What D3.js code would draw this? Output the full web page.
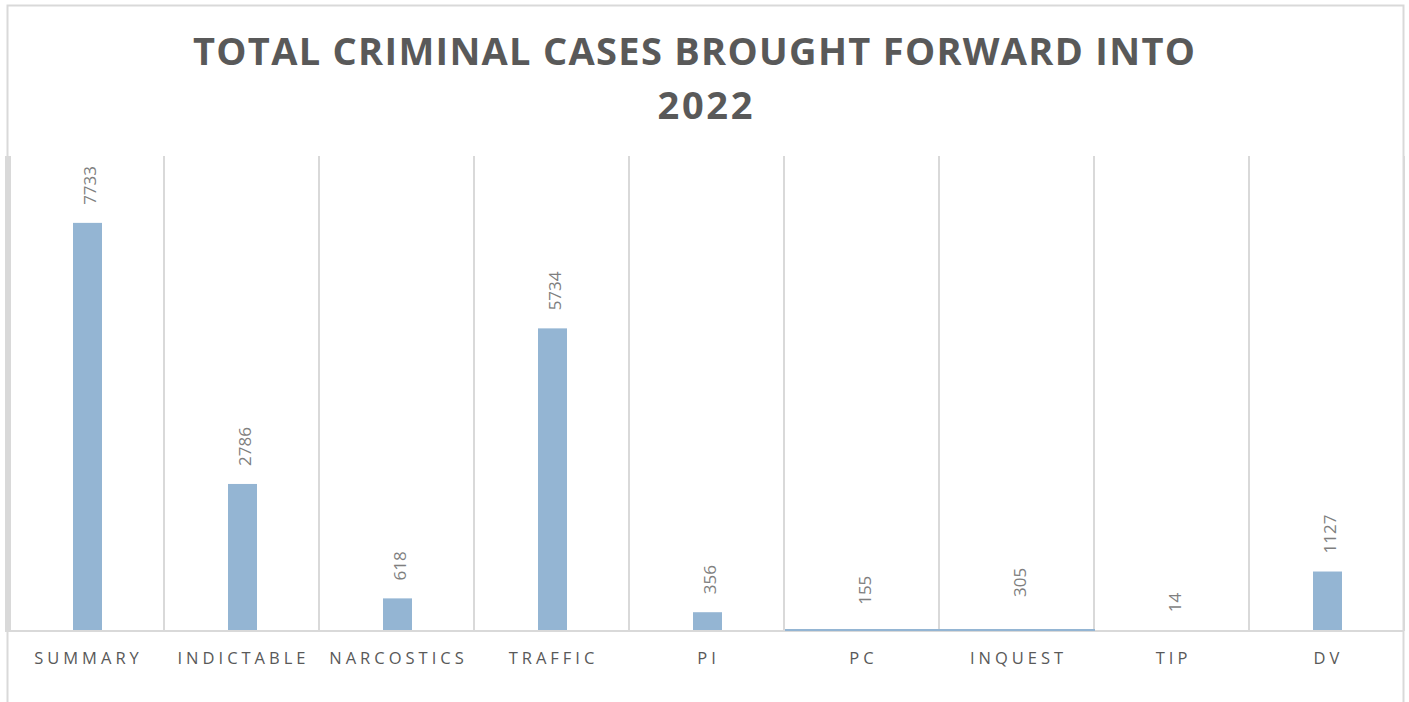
<!DOCTYPE html>
<html><head><meta charset="utf-8">
<script src="https://cdn.jsdelivr.net/npm/d3@7"></script>
<style>html,body{margin:0;padding:0;background:#fff;}svg{display:block;}</style>
</head><body>
<svg id="chart" width="1409" height="702"></svg>
<script>
const titleLines = ["TOTAL CRIMINAL CASES BROUGHT FORWARD INTO", "2022"];
const categories = ["SUMMARY","INDICTABLE","NARCOSTICS","TRAFFIC","PI","PC","INQUEST","TIP","DV"];
const values = [7733, 2786, 618, 5734, 356, 155, 305, 14, 1127];
// categories whose bar was rendered as a flat line along the baseline in the reference
const flatCategories = ["PC","INQUEST"];
const yDomain = [0, 9000];

const svg = d3.select("#chart");
const W = 1409, H = 702;
const plot = {left: 9, right: 1404, top: 156, bottom: 631};

const x = d3.scaleBand().domain(categories).range([plot.left, plot.right]).paddingInner(0).paddingOuter(0);
const y = d3.scaleLinear().domain(yDomain).range([plot.bottom, plot.top]);
const barW = 29;
const grid = "#d9d9d9";

// outer chart border (no bottom edge visible)
svg.append("path")
  .attr("d", `M7.5,${H} V5.5 H1403.5 V${H}`)
  .attr("fill","none").attr("stroke",grid).attr("stroke-width",2);

// left plot edge (thick)
svg.append("rect").attr("x",5).attr("y",plot.top).attr("width",6).attr("height",plot.bottom-plot.top)
  .attr("fill",grid);

// vertical category gridlines
const bounds = categories.map(c => x(c)).concat([x(categories[categories.length-1]) + x.bandwidth()]);
svg.append("g").selectAll("line").data(bounds.slice(1)).join("line")
  .attr("x1", d => d).attr("x2", d => d)
  .attr("y1", plot.top).attr("y2", plot.bottom)
  .attr("stroke", grid).attr("stroke-width", 2);

// baseline
svg.append("line").attr("x1",5).attr("x2",plot.right).attr("y1",plot.bottom).attr("y2",plot.bottom)
  .attr("stroke",grid).attr("stroke-width",2);

const data = categories.map((c,i) => ({c, v: values[i], flat: flatCategories.includes(c)}));
const barColor = "#94b5d3";

// bars
svg.append("g").selectAll("rect").data(data.filter(d => !d.flat)).join("rect")
  .attr("x", d => x(d.c) + x.bandwidth()/2 - barW/2 + 1)
  .attr("width", barW)
  .attr("y", d => y(d.v))
  .attr("height", d => y(0) - y(d.v) - 1)
  .attr("fill", barColor);

// flat bars
svg.append("g").selectAll("rect").data(data.filter(d => d.flat)).join("rect")
  .attr("x", d => x(d.c) + 1)
  .attr("width", x.bandwidth())
  .attr("y", y(0) - 2)
  .attr("height", 2)
  .attr("fill", barColor);

// data labels
svg.append("g").selectAll("text").data(data).join("text")
  .attr("transform", d => `translate(${x(d.c) + x.bandwidth()/2 + 4},${y(d.v) - 18}) rotate(-90)`)
  .attr("dy","0.35em")
  .attr("text-anchor","start")
  .attr("font-family","'Open Sans', sans-serif")
  .attr("font-size",17)
  .attr("fill","#7f7f7f")
  .text(d => d.v);

// category labels
svg.append("g").selectAll("text").data(categories).join("text")
  .attr("x", d => x(d) + x.bandwidth()/2 + 2)
  .attr("y", 664)
  .attr("text-anchor","middle")
  .attr("font-family","'Open Sans', sans-serif")
  .attr("font-size",16.5)
  .attr("letter-spacing","4px")
  .attr("fill","#595959")
  .text(d => d);

// title
const titleCenters = [694, 705];
const titleWidths = [1002, 95];
const titleBaselines = [65, 119];
svg.append("g").selectAll("text").data(titleLines).join("text")
  .attr("x", (d,i) => titleCenters[i])
  .attr("y", (d,i) => titleBaselines[i])
  .attr("text-anchor","middle")
  .attr("font-family","'Open Sans', sans-serif")
  .attr("font-weight","bold")
  .attr("font-size",38)
  .attr("fill","#595959")
  .attr("textLength", (d,i) => titleWidths[i])
  .attr("lengthAdjust","spacing")
  .text(d => d);
</script>
</body></html>
